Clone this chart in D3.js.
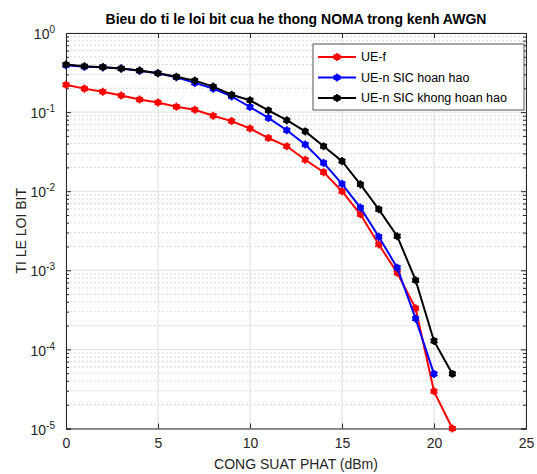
<!DOCTYPE html>
<html>
<head>
<meta charset="utf-8">
<script src="https://cdn.jsdelivr.net/npm/d3@7"></script>
<style>
body{margin:0;background:#fff;}
svg{font-family:"Liberation Sans",Arial,sans-serif;}
.title{font-weight:bold;font-size:14px;fill:#000;}
.label{font-size:14px;fill:#262626;}
.tick text{font-size:14px;fill:#262626;}
</style>
</head>
<body>
<svg></svg>
<script>
//chart values
var power = [0,1,2,3,4,5,6,7,8,9,10,11,12,13,14,15,16,17,18,19,20,21];
var ueF = [0.222,0.198,0.181,0.162,0.144,0.132,0.117,0.107,0.090,0.077,0.062,0.047,0.037,0.025,0.0174,0.010,0.0051,0.00212,0.00093,0.00033,0.0000295,0.00001];
var ueNPerfect = [0.39,0.375,0.37,0.355,0.333,0.31,0.276,0.234,0.198,0.158,0.116,0.0844,0.059,0.039,0.0228,0.0124,0.0062,0.00266,0.00108,0.000245,0.000049];
var ueNImperfect = [0.40,0.38,0.37,0.355,0.335,0.31,0.28,0.25,0.21,0.166,0.141,0.105,0.079,0.057,0.037,0.024,0.0122,0.0059,0.0027,0.00075,0.000128,0.000049];
var seriesNames = ["UE-f","UE-n SIC hoan hao","UE-n SIC khong hoan hao"];
var seriesColors = ["#ff0000","#0000ff","#000000"];
var xTicks = [0,5,10,15,20,25];
var yExps = [0,-1,-2,-3,-4,-5];

var makeTranslateString = function(x,y)
{
    return "translate("+x+","+y+")";
}

var drawGrid = function(target,graph,xScale,yScale)
{
    //minor log grid
    var minor = [];
    yExps.forEach(function(e){
        for(var k=2;k<10;k++){ if(e<0) minor.push(k*Math.pow(10,e)); }
    });
    target.selectAll(".minor")
    .data(minor)
    .enter()
    .append("line")
    .attr("x1",0).attr("x2",graph.width)
    .attr("y1",function(d){return yScale(d);})
    .attr("y2",function(d){return yScale(d);})
    .attr("stroke","#d0d0d0")
    .attr("stroke-width",0.8)
    .attr("stroke-dasharray","2,2");

    target.selectAll(".majorY")
    .data(yExps)
    .enter()
    .append("line")
    .attr("x1",0).attr("x2",graph.width)
    .attr("y1",function(e){return yScale(Math.pow(10,e));})
    .attr("y2",function(e){return yScale(Math.pow(10,e));})
    .attr("stroke","#dedede")
    .attr("stroke-width",1);

    target.selectAll(".majorX")
    .data(xTicks)
    .enter()
    .append("line")
    .attr("y1",0).attr("y2",graph.height)
    .attr("x1",function(d){return xScale(d);})
    .attr("x2",function(d){return xScale(d);})
    .attr("stroke","#dedede")
    .attr("stroke-width",1);
}

var drawAxes = function(target,graph,xScale,yScale)
{
    var xAxis = d3.axisBottom(xScale).tickValues(xTicks).tickSize(-5).tickPadding(10);
    var xTop = d3.axisTop(xScale).tickValues(xTicks).tickSize(-5).tickFormat("");
    var yVals = yExps.map(function(e){return Math.pow(10,e);});
    var yAxis = d3.axisLeft(yScale).tickValues(yVals).tickSize(-5).tickPadding(8).tickFormat("");
    var yRight = d3.axisRight(yScale).tickValues(yVals).tickSize(-5).tickFormat("");

    target.append("g").attr("transform",makeTranslateString(0,graph.height)).call(xAxis);
    target.append("g").call(xTop);
    var gy = target.append("g").call(yAxis);
    target.append("g").attr("transform",makeTranslateString(graph.width,0)).call(yRight);

    //minor ticks on log axis
    var minor = [];
    yExps.forEach(function(e){
        for(var k=2;k<10;k++){ if(e<0) minor.push(k*Math.pow(10,e)); }
    });
    target.append("g").call(d3.axisLeft(yScale).tickValues(minor).tickSize(-3).tickFormat(""));
    target.append("g").attr("transform",makeTranslateString(graph.width,0))
    .call(d3.axisRight(yScale).tickValues(minor).tickSize(-3).tickFormat(""));

    target.selectAll(".domain").attr("stroke","#262626");
    target.selectAll(".tick line").attr("stroke","#262626");

    //10^n labels
    gy.selectAll(".tick").each(function(d,i){
        var t = d3.select(this).append("text")
        .attr("x",-11).attr("dy","0.4em")
        .attr("text-anchor","end")
        .attr("fill","#262626");
        t.append("tspan").text("10");
        t.append("tspan").attr("dy","-0.6em").attr("font-size","10px").text(yExps[i]);
    });
}

var marker = d3.symbol().type(d3.symbolAsterisk).size(45);

var drawLines = function(target,xScale,yScale)
{
    var allSeries = [ueF,ueNPerfect,ueNImperfect];
    var line = d3.line()
        .x(function(d,i){return xScale(power[i]);})
        .y(function(d){return yScale(d);});
    allSeries.forEach(function(vals,s){
        var g = target.append("g");
        g.append("path")
        .datum(vals)
        .attr("d",line)
        .attr("fill","none")
        .attr("stroke",seriesColors[s])
        .attr("stroke-width",2);
        var pts = g.selectAll("g.pt")
        .data(vals)
        .enter()
        .append("g")
        .attr("transform",function(d,i){return makeTranslateString(xScale(power[i]),yScale(d));});
        pts.append("circle").attr("r",3.3).attr("fill",seriesColors[s]);
        pts.append("path").attr("d",marker).attr("fill","none")
        .attr("stroke",seriesColors[s]).attr("stroke-width",1.6);
    });
}

var drawLegend = function(svg)
{
    var lg = svg.append("g").attr("transform",makeTranslateString(313,44));
    lg.append("rect").attr("width",211).attr("height",66)
    .attr("fill","#fff").attr("stroke","#262626").attr("stroke-width",0.8);
    seriesNames.forEach(function(name,i){
        var y = 13+i*20.5;
        lg.append("line").attr("x1",5).attr("x2",43).attr("y1",y).attr("y2",y)
        .attr("stroke",seriesColors[i]).attr("stroke-width",2);
        var m = lg.append("g").attr("transform",makeTranslateString(24,y));
        m.append("circle").attr("r",3.3).attr("fill",seriesColors[i]);
        m.append("path").attr("d",marker).attr("fill","none")
        .attr("stroke",seriesColors[i]).attr("stroke-width",1.6);
        lg.append("text").text(name).attr("x",48).attr("y",y).attr("dy","0.35em")
        .attr("font-size","12.5px").attr("fill","#000");
    });
}

var drawLabels = function(svg,graph,margins)
{
    svg.append("text").text("Bieu do ti le loi bit cua he thong NOMA trong kenh AWGN")
    .classed("title",true).attr("text-anchor","middle")
    .attr("x",margins.left+graph.width/2).attr("y",24);
    svg.append("text").text("CONG SUAT PHAT (dBm)")
    .classed("label",true).attr("text-anchor","middle")
    .attr("x",margins.left+graph.width/2).attr("y",469);
    svg.append("g").attr("transform",makeTranslateString(26,margins.top+graph.height/2))
    .append("text").text("TI LE LOI BIT")
    .classed("label",true).attr("text-anchor","middle")
    .attr("transform","rotate(270)");
}

var initGraph = function()
{
    var screen = {width:537,height:474};
    var margins = {left:66,right:11,top:33,bottom:45};
    var graph = {
        width:screen.width-margins.left-margins.right,
        height:screen.height-margins.top-margins.bottom-0.5
    };
    var svg = d3.select("svg").attr("width",screen.width).attr("height",screen.height);
    var target = svg.append("g").attr("transform",makeTranslateString(margins.left,margins.top));

    var xScale = d3.scaleLinear().domain([0,25]).range([0,graph.width]);
    var yScale = d3.scaleLog().domain([1e-5,1]).range([graph.height,0]);

    drawGrid(target,graph,xScale,yScale);
    drawAxes(target,graph,xScale,yScale);
    drawLines(target,xScale,yScale);
    drawLegend(svg);
    drawLabels(svg,graph,margins);
}

initGraph();
</script>
</body>
</html>
